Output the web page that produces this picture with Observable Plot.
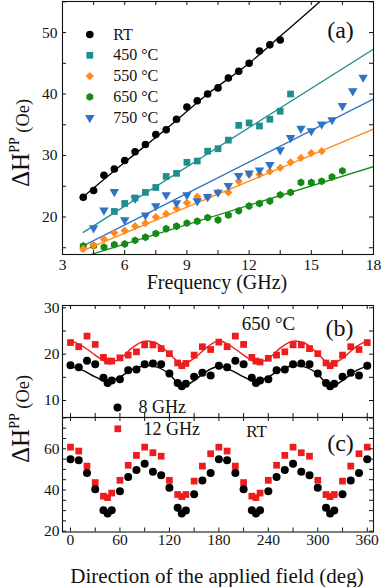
<!DOCTYPE html>
<html><head><meta charset="utf-8">
<script src="https://cdn.jsdelivr.net/npm/d3@7"></script>
<script src="https://cdn.jsdelivr.net/npm/@observablehq/plot@0.6"></script>
<style>
html,body{margin:0;padding:0;background:#fff;}
#chart{position:relative;width:384px;height:587px;overflow:hidden;}
#chart > svg{position:absolute;left:0;}
</style></head><body><div id="chart"></div>
<script>
// ---------- Panel (a): linewidth vs frequency ----------
const freqRT = [4,4.5,5,5.5,6,6.5,7,7.5,8,8.5,9,9.5,10,10.5,11,11.5,12,12.5,13,13.5];
const dHRT   = [23.2,24.3,26.8,27.8,29.2,30.6,31.8,33.4,34.2,35.9,37.9,38.9,40.0,41.0,42.6,43.7,45.0,47.0,48.0,48.8];
const freq450 = [5.5,6,6.5,7,7.5,8,8.5,9,9.5,10,10.5,11,11.5,12,12.5,13,13.5,14];
const dH450   = [20.9,22.2,23.1,24.0,24.8,26.6,27.1,28.9,29.1,30.7,31.1,32.5,34.9,35.3,34.8,35.9,37.2,40.0];
const freq550 = [4,4.5,5,5.5,6,6.5,7,7.5,8,8.5,9,9.5,10,10.5,11,11.5,12,12.5,13,13.5,14,14.5,15,15.5];
const dH550   = [14.8,15.4,16.4,17.4,17.8,18.5,19.0,20.0,20.5,21.4,22.3,23.3,23.2,24.0,24.0,25.8,26.9,26.9,27.4,28.0,28.9,29.6,30.4,30.7];
const freq650 = [4,4.5,5,5.5,6,6.5,7,7.5,8,8.5,9,9.5,10,10.5,11,11.5,12,12.5,13,13.5,14,14.5,15,15.5,16,16.5];
const dH650   = [15.3,15.3,15.1,15.5,15.6,16.2,16.7,17.3,18.1,18.5,19.0,19.3,19.9,19.5,20.3,21.0,21.8,22.2,22.6,23.6,24.0,25.6,25.6,25.8,26.5,27.5];
const freq750 = [4.5,5,5.5,6,6.5,7,7.5,8,8.5,9,9.5,10,10.5,11,11.5,12,12.5,13,13.5,14,14.5,15,15.5,16,16.5,17,17.5];
const dH750   = [18.2,21.1,24.1,19.5,23.0,20.3,21.8,23.6,22.3,23.6,22.6,23.3,24.0,25.1,26.7,27.1,27.6,28.5,30.9,32.9,34.4,34.0,35.1,35.8,38.1,40.5,42.7];

// fitted lines
const fitRTf = [3.9,6,8,10,12,13.5,15,16.2];
const fitRTv = [23.0,28.9,34.3,40.0,45.0,49.4,53.8,57.4];
const fit450f = [4,18],   fit450v = [17.5,47.3];
const fit550f = [3.9,18], fit550v = [14.4,34.3];
const fit650f = [3.9,18], fit650v = [13.4,28.2];
const fit750f = [4,18],   fit750v = [15.3,39.2];

const seriesNames = ["RT","450 °C","550 °C","650 °C","750 °C"];

// ---------- Panels (b) and (c): angular dependence ----------
const angles = [0,10,20,30,40,45,50,60,70,80,90,100,110,120,130,135,140,150,160,170,180,
                190,200,210,220,225,230,240,250,260,270,280,290,300,310,315,320,330,340,350,360];
// (b) 650 °C
const b12 = [22.5,21.6,23.9,22.1,19.3,18.5,18.5,19.2,19.8,20.5,22.0,22.0,21.2,20.1,18.1,17.5,18.0,19.8,21.6,21.0,22.6,
             21.6,23.9,22.1,19.3,18.5,18.3,19.1,19.8,20.5,22.0,22.0,21.2,20.1,18.1,17.5,18.0,19.8,21.6,21.0,22.5];
const b8  = [17.6,17.2,18.6,17.8,14.9,13.8,14.3,14.6,16.5,16.7,17.8,18.0,17.8,15.8,13.8,13.1,13.6,15.1,16.0,15.4,17.5,
             17.2,18.6,17.8,14.9,13.8,14.3,14.6,16.5,16.7,17.8,18.0,17.8,15.8,13.8,13.1,13.6,15.1,16.0,15.4,17.5];
const fitAngles = [0,15,30,45,60,75,90,105,120,135,150,165,180,195,210,225,240,255,270,285,300,315,330,345,360];
const fitB12 = [22.9,21.7,19.8,18.3,19.0,21.4,22.8,22.3,20.1,17.9,19.1,21.4,22.9,21.7,19.8,18.3,19.0,21.4,22.8,22.3,20.1,17.9,19.1,21.4,22.9];
const fitB8  = [17.3,16.5,15.1,14.1,15.1,16.7,17.5,17.2,15.7,13.0,14.3,16.3,17.4,16.5,15.1,14.1,15.1,16.7,17.5,17.2,15.7,13.0,14.3,16.3,17.4];
// (c) RT
const c12 = [60.8,58.9,51.6,43.6,37.0,36.3,38.5,44.7,52.0,56.8,60.8,58.1,56.4,44.7,37.8,36.8,37.8,44.3,51.6,57.6,60.8,
             58.9,51.6,43.6,37.0,36.3,38.5,44.7,52.0,56.8,60.8,58.1,56.4,44.7,37.8,36.8,37.8,44.3,51.6,57.6,60.8];
const c8  = [54.9,54.4,48.3,40.4,30.2,28.6,30.2,39.4,46.3,49.7,52.8,48.8,47.1,41.1,31.4,28.6,30.0,37.9,44.6,48.3,54.9,
             54.4,48.3,40.4,30.2,28.6,30.2,39.4,46.3,49.7,52.8,48.8,47.1,41.1,31.4,28.6,30.0,37.9,44.6,48.3,54.9];

// ticks
const ticksFx = [3,4.5,6,7.5,9,10.5,12,13.5,15,16.5,18];
const labelsFx = [3,6,9,12,15,18];
const ticksAy = [15,20,25,30,35,40,45,50,55];
const labelsAy = [20,30,40,50];
const ticksAng = [0,30,60,90,120,150,180,210,240,270,300,330,360];
const labelsAng = [0,60,120,180,240,300,360];
const ticksBy = [10,15,20,25,30];
const labelsBy = [10,20,30];
const ticksCy = [20,25,30,35,40,45,50,55,60,65,70,75];
const labelsCy = [20,40,60];

// ---------- styling ----------
const FONT = "'Liberation Serif','Times New Roman',serif";
const INK = "#111";
const C = {RT:"#000000", t450:"#1f8e8e", t550:"#ff8a1a", t650:"#168a16", t750:"#2f72c6", red:"#ee1c1c"};
const hexagon = {draw(ctx, size){
  const R = Math.sqrt(2*size/(3*Math.sqrt(3)));
  for (let k = 0; k < 6; k++) { const a = Math.PI/6 + k*Math.PI/3; const x = R*Math.cos(a), y = R*Math.sin(a); if (k) ctx.lineTo(x,y); else ctx.moveTo(x,y); }
  ctx.closePath();
}};
const W = 384, ML = 62, MR = 11;
const style = {fontFamily: FONT, fontSize: "15.5px", color: INK, background: "transparent", overflow: "visible"};
const centered = {textAnchor: "middle", lineAnchor: "middle", fill: INK};

function inTicks(xt, yt, h, w, len = 4) {
  return [
    Plot.tickX(xt, {x: d => d, insetTop: h - len, stroke: INK}),
    Plot.tickX(xt, {x: d => d, insetBottom: h - len, stroke: INK}),
    Plot.tickY(yt, {y: d => d, insetRight: w - len, stroke: INK}),
    Plot.tickY(yt, {y: d => d, insetLeft: w - len, stroke: INK})
  ];
}
const rows = (xs, ys) => xs.map((x, i) => ({x, y: ys[i]}));

// ---------- panel (a) ----------
const hA = 295, mtA = 1, mbA = 41;
const legendA = [
  {name: seriesNames[0], color: C.RT, symbol: "circle", rot: 0, r: 3.8},
  {name: seriesNames[1], color: C.t450, symbol: "square", rot: 0, r: 3.8},
  {name: seriesNames[2], color: C.t550, symbol: "diamond2", rot: 0, r: 3.7},
  {name: seriesNames[3], color: C.t650, symbol: hexagon, rot: 0, r: 3.6},
  {name: seriesNames[4], color: C.t750, symbol: "triangle", rot: 180, r: 3.5}
];
const legendMarksA = legendA.flatMap((e, i) => [
  Plot.dot([e], {frameAnchor: "top-left", dx: 27.3, dy: 33 + i * 20.8, symbol: e.symbol, fill: e.color, r: e.r, rotate: e.rot}),
  Plot.text([e], {frameAnchor: "top-left", dx: 50.7, dy: 33 + i * 20.8, text: "name", ...centered, textAnchor: "start", fontSize: 16})
]);
const plotA = Plot.plot({
  width: W, height: hA, marginLeft: ML, marginRight: MR, marginTop: mtA, marginBottom: mbA,
  x: {domain: [3, 18]}, y: {domain: [13.9, 55.05]}, style,
  marks: [
    Plot.line(rows(fit650f, fit650v), {x: "x", y: "y", stroke: C.t650, strokeWidth: 1.3, clip: true}),
    Plot.line(rows(fit550f, fit550v), {x: "x", y: "y", stroke: C.t550, strokeWidth: 1.3, clip: true}),
    Plot.line(rows(fit750f, fit750v), {x: "x", y: "y", stroke: C.t750, strokeWidth: 1.3, clip: true}),
    Plot.line(rows(fit450f, fit450v), {x: "x", y: "y", stroke: C.t450, strokeWidth: 1.3, clip: true}),
    Plot.line(rows(fitRTf, fitRTv), {x: "x", y: "y", stroke: C.RT, strokeWidth: 1.3, curve: "monotone-x", clip: true}),
    Plot.dot(rows(freq650, dH650), {x: "x", y: "y", symbol: hexagon, fill: C.t650, r: 3.6}),
    Plot.dot(rows(freq550, dH550), {x: "x", y: "y", symbol: "diamond2", fill: C.t550, r: 3.7}),
    Plot.dot(rows(freq750, dH750), {x: "x", y: "y", symbol: "triangle", rotate: 180, fill: C.t750, r: 3.5}),
    Plot.dot(rows(freq450, dH450), {x: "x", y: "y", symbol: "square", fill: C.t450, r: 3.8}),
    Plot.dot(rows(freqRT, dHRT), {x: "x", y: "y", symbol: "circle", fill: C.RT, r: 3.8}),
    ...legendMarksA,
    Plot.text(["(a)"], {frameAnchor: "top-right", dx: -33, dy: 29, text: d => d, ...centered, fontSize: 24}),
    ...inTicks(ticksFx, ticksAy, hA - mtA - mbA, W - ML - MR),
    Plot.frame({stroke: INK, strokeWidth: 1.1}),
    Plot.axisX(labelsFx, {tickSize: 0, tickPadding: 4, label: null, fill: INK}),
    Plot.axisY(labelsAy, {tickSize: 0, tickPadding: 5, label: null, fill: INK})
  ]
});

// ---------- panel (b) ----------
const hB = 122, mtB = 10, mbB = 0;
const angDomain = [-9.7, 367.6];
const plotB = Plot.plot({
  width: W, height: hB, marginLeft: ML, marginRight: MR, marginTop: mtB, marginBottom: mbB,
  x: {domain: angDomain, axis: null}, y: {domain: [6.33, 30.5]}, style,
  marks: [
    Plot.line(rows(fitAngles, fitB12), {x: "x", y: "y", stroke: C.red, strokeWidth: 1.4, curve: "catmull-rom"}),
    Plot.line(rows(fitAngles, fitB8), {x: "x", y: "y", stroke: C.RT, strokeWidth: 1.4, curve: "catmull-rom"}),
    Plot.dot(rows(angles, b12), {x: "x", y: "y", symbol: "square", fill: C.red, r: 3.8}),
    Plot.dot(rows(angles, b8), {x: "x", y: "y", symbol: "circle", fill: C.RT, r: 4}),
    Plot.text(["650 °C"], {frameAnchor: "top-left", dx: 206, dy: 18.5, text: d => d, ...centered, fontSize: 19}),
    Plot.text(["(b)"], {frameAnchor: "top-right", dx: -34, dy: 22.5, text: d => d, ...centered, fontSize: 24}),
    Plot.dot(["8 GHz"], {frameAnchor: "bottom-left", dx: 55, dy: -10, symbol: "circle", fill: C.RT, r: 4}),
    Plot.text(["8 GHz"], {frameAnchor: "bottom-left", dx: 76, dy: -10, text: d => d, ...centered, textAnchor: "start", fontSize: 18}),
    ...inTicks(ticksAng, ticksBy, hB - mtB - mbB, W - ML - MR),
    Plot.frame({stroke: INK, strokeWidth: 1.1}),
    Plot.axisY(labelsBy, {tickSize: 0, tickPadding: 3, label: null, fill: INK})
  ]
});

// ---------- panel (c) ----------
const hC = 170, mtC = 0, mbC = 55.5;
const plotC = Plot.plot({
  width: W, height: hC, marginLeft: ML, marginRight: MR, marginTop: mtC, marginBottom: mbC,
  x: {domain: angDomain}, y: {domain: [19.6, 75.2]}, style,
  marks: [
    Plot.dot(rows(angles, c12), {x: "x", y: "y", symbol: "square", fill: C.red, r: 3.8}),
    Plot.dot(rows(angles, c8), {x: "x", y: "y", symbol: "circle", fill: C.RT, r: 4}),
    Plot.dot(["12 GHz"], {frameAnchor: "top-left", dx: 55.3, dy: 11.3, symbol: "square", fill: C.red, r: 3.8}),
    Plot.text(["12 GHz"], {frameAnchor: "top-left", dx: 81, dy: 11.3, text: d => d, ...centered, textAnchor: "start", fontSize: 18}),
    Plot.text(["RT"], {frameAnchor: "top-left", dx: 194, dy: 14, text: d => d, ...centered, fontSize: 17}),
    Plot.text(["(c)"], {frameAnchor: "top-right", dx: -33, dy: 25.5, text: d => d, ...centered, fontSize: 24}),
    ...inTicks(ticksAng, ticksCy, hC - mtC - mbC, W - ML - MR),
    Plot.frame({stroke: INK, strokeWidth: 1.1}),
    Plot.axisX(labelsAng, {tickSize: 0, tickPadding: 2, label: null, fill: INK}),
    Plot.axisY(labelsCy, {tickSize: 0, tickPadding: 3, label: null, fill: INK})
  ]
});

const chart = document.getElementById("chart");
[[plotA, 0], [plotB, 295], [plotC, 417]].forEach(([p, top]) => { p.style.top = top + "px"; chart.appendChild(p); });

// ---------- axis titles ----------
const over = d3.select(chart).append("svg").attr("width", W).attr("height", 587)
  .style("top", "0px").style("pointer-events", "none")
  .attr("font-family", FONT).attr("fill", INK);
over.append("text").attr("x", 217).attr("y", 289).attr("text-anchor", "middle").attr("font-size", 20).text("Frequency (GHz)");
over.append("text").attr("x", 217).attr("y", 582.5).attr("text-anchor", "middle").attr("font-size", 21).text("Direction of the applied field (deg)");
function yTitle(x, y) {
  const t = over.append("text").attr("transform", `translate(${x},${y}) rotate(-90)`).attr("text-anchor", "start");
  t.append("tspan").attr("font-size", 25).text("ΔH");
  t.append("tspan").attr("font-size", 14).attr("dy", -10).text("PP");
  t.append("tspan").attr("font-size", 18.5).attr("dy", 10).text(" (Oe)");
}
yTitle(29, 187);
yTitle(29, 463);
</script></body></html>
